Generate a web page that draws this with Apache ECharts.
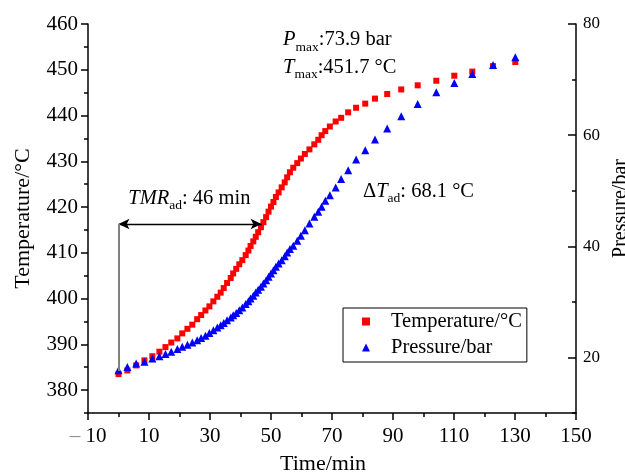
<!DOCTYPE html>
<html><head><meta charset="utf-8">
<script src="https://cdn.jsdelivr.net/npm/echarts@6/dist/echarts.min.js"></script>
<style>html,body{margin:0;padding:0;background:#fff}#c{width:625px;height:474px}</style>
</head><body><div id="c"></div>
<script>
// ---- data ----
const time = [0,2.9,5.8,8.5,11.1,13.4,15.4,17.3,19.3,20.9,22.6,24.2,25.8,27.1,28.5,29.8,31.1,32.4,33.5,34.5,35.6,36.8,37.6,38.6,39.6,40.6,41.7,42.6,43.3,44.2,45.0,45.8,46.7,47.5,48.4,49.2,50.0,50.8,51.6,52.5,53.5,54.5,55.3,56.2,57.3,58.6,59.8,61.1,62.6,64.2,65.5,66.6,67.8,69.3,71.2,73.0,75.3,77.9,80.9,84.1,88.1,92.7,98.1,104.2,110.1,116.0,122.8,130.1];
const temperature = [383.5,384.3,385.4,386.5,387.4,388.4,389.4,390.4,391.3,392.4,393.4,394.3,395.5,396.4,397.4,398.3,399.4,400.4,401.3,402.3,403.4,404.5,405.5,406.5,407.5,408.4,409.5,410.5,411.5,412.5,413.5,414.5,415.6,416.7,417.8,419.0,420.1,421.1,422.2,423.2,424.3,425.4,426.5,427.6,428.6,429.6,430.6,431.6,432.6,433.7,434.7,435.7,436.6,437.6,438.7,439.5,440.7,441.7,442.6,443.7,444.7,445.7,446.6,447.6,448.7,449.6,450.8,451.7];
const pressure = [17.7,18.3,18.9,19.2,19.8,20.2,20.6,21.0,21.5,21.9,22.3,22.7,23.1,23.5,23.9,24.4,24.9,25.4,25.8,26.2,26.7,27.2,27.6,28.0,28.5,29.0,29.6,30.1,30.6,31.1,31.7,32.2,32.7,33.3,33.9,34.5,35.1,35.7,36.3,36.9,37.5,38.2,38.9,39.5,40.1,41.0,41.9,42.9,44.1,45.3,46.2,47.1,48.2,49.2,50.6,52.1,53.7,55.6,57.3,59.2,61.2,63.4,65.6,67.7,69.4,71.0,72.6,74.0];
const seriesNames = ['Temperature/°C', 'Pressure/bar'];
const xTickLabels = [-10,10,30,50,70,90,110,130,150];
const tempTickLabels = [380,390,400,410,420,430,440,450,460];
const presTickLabels = [20,40,60,80];
// annotation values
const tmrStart = 0, tmrEnd = 46.9, tmrLevel = 416.3, tmrFoot = 384.2;
const annPmax = ':73.9 bar', annTmax = ':451.7 °C', annTmr = ': 46 min', annDT = ': 68.1 °C';

const FONT = '"Liberation Serif","Times New Roman",serif';
const chart = echarts.init(document.getElementById('c'), null, {renderer:'canvas'});
const pairs = (a,b) => a.map((v,i)=>[v,b[i]]);
const axisLineStyle = {color:'#000', width:1.5};

function richAnn(parts, x, y) {
  return {
    type:'text', x:x, y:y, silent:true,
    style:{
      text: parts, verticalAlign:'middle', align:'left',
      rich:{
        i:{fontFamily:FONT, fontSize:20.5, fontStyle:'italic', color:'#000'},
        s:{fontFamily:FONT, fontSize:13.5, color:'#000', padding:[14,0,0,0]},
        n:{fontFamily:FONT, fontSize:20.5, color:'#000'}
      }
    }
  };
}

const option = {
  animation:false,
  backgroundColor:'#fff',
  grid:{left:88, right:49, top:24, bottom:61, containLabel:false, outerBoundsMode:'none'},
  legend:{
    left:343, top:308, orient:'vertical',
    padding:[3,5,4,19], itemGap:5,
    itemWidth:8, itemHeight:8,
    borderColor:'#000', borderWidth:1,
    textStyle:{fontFamily:FONT, fontSize:20.5, color:'#000', lineHeight:20, padding:[0,0,0,16]},
    data:[{name:seriesNames[0], icon:'rect'},{name:seriesNames[1], icon:'triangle'}]
  },
  xAxis:[{
    type:'value', min:-10, max:150, interval:10, position:'bottom',
    name:'Time/min', nameLocation:'middle', nameGap:40,
    nameTextStyle:{fontFamily:FONT, fontSize:22, color:'#000', padding:[0,18,0,0]},
    axisLine:{show:true, onZero:false, lineStyle:axisLineStyle},
    axisTick:{show:true, length:4, lineStyle:{color:'#000', width:1.5}},
    axisLabel:{fontFamily:FONT, fontSize:21, color:'#000', margin:13,
      customValues: xTickLabels,
      rich:{g:{fontFamily:FONT, fontSize:21, color:'#8a8a8a'}},
      formatter: v => v < 0 ? '{g|–} ' + (-v) : String(v)},
    splitLine:{show:false}
  },{
    type:'value', min:-10, max:150, interval:10, position:'bottom',
    axisLine:{show:false, onZero:false},
    axisTick:{show:true, length:7, customValues: xTickLabels, lineStyle:{color:'#000', width:1.5}},
    axisLabel:{show:false}, splitLine:{show:false}
  }],
  yAxis:[{
    type:'value', min:375, max:460, interval:5, position:'left',
    name:'Temperature/°C', nameLocation:'middle', nameGap:54, nameRotate:90,
    nameTextStyle:{fontFamily:FONT, fontSize:22, color:'#000'},
    axisLine:{show:true, onZero:false, lineStyle:axisLineStyle},
    axisTick:{show:true, length:4, lineStyle:{color:'#000', width:1.5}},
    axisLabel:{fontFamily:FONT, fontSize:21, color:'#000', margin:10, customValues: tempTickLabels},
    splitLine:{show:false}
  },{
    type:'value', min:10, max:80, interval:10, position:'right',
    name:'Pressure/bar', nameLocation:'middle', nameGap:28, nameRotate:90,
    nameTextStyle:{fontFamily:FONT, fontSize:20, color:'#000', padding:[0,0,0,20]},
    axisLine:{show:true, onZero:false, lineStyle:axisLineStyle},
    axisTick:{show:true, inside:true, length:4, lineStyle:{color:'#000', width:1.5}},
    axisLabel:{fontFamily:FONT, fontSize:17, color:'#000', margin:7, customValues: presTickLabels},
    splitLine:{show:false}
  },{
    type:'value', min:375, max:460, interval:5, position:'left',
    axisLine:{show:false, onZero:false},
    axisTick:{show:true, length:7, customValues: tempTickLabels, lineStyle:{color:'#000', width:1.5}},
    axisLabel:{show:false}, splitLine:{show:false}
  },{
    type:'value', min:10, max:80, interval:10, position:'right',
    axisLine:{show:false, onZero:false},
    axisTick:{show:true, inside:true, length:8, customValues: presTickLabels, lineStyle:{color:'#000', width:1.5}},
    axisLabel:{show:false}, splitLine:{show:false}
  }],
  series:[{
    name:seriesNames[0], type:'scatter', xAxisIndex:0, yAxisIndex:0,
    symbol:'rect', symbolSize:6, itemStyle:{color:'#ff0000', opacity:1},
    data: pairs(time, temperature),
    markLine:{
      silent:true, animation:false,
      label:{show:false},
      data:[
        [{coord:[tmrStart,tmrLevel], symbol:'arrow', symbolSize:[8,11], lineStyle:{color:'#000', width:1.3, type:'solid'}},
         {coord:[tmrEnd,tmrLevel], symbol:'arrow', symbolSize:[8,11]}],
        [{coord:[tmrStart,tmrLevel], symbol:'none', lineStyle:{color:'#808080', width:2, type:'solid'}},
         {coord:[tmrStart,tmrFoot], symbol:'none'}]
      ]
    }
  },{
    name:seriesNames[1], type:'scatter', xAxisIndex:0, yAxisIndex:1,
    symbol:'triangle', symbolSize:8, itemStyle:{color:'#0000ff', opacity:1},
    data: pairs(time, pressure)
  }],
  graphic:[
    richAnn('{i|P}{s|max}{n|' + annPmax + '}', 283, 40),
    richAnn('{i|T}{s|max}{n|' + annTmax + '}', 283, 67.3),
    richAnn('{i|TMR}{s|ad}{n|' + annTmr + '}', 128.3, 198.3),
    richAnn('{n|Δ}{i|T}{s|ad}{n|' + annDT + '}', 363, 191.6)
  ]
};
chart.setOption(option);
</script></body></html>
